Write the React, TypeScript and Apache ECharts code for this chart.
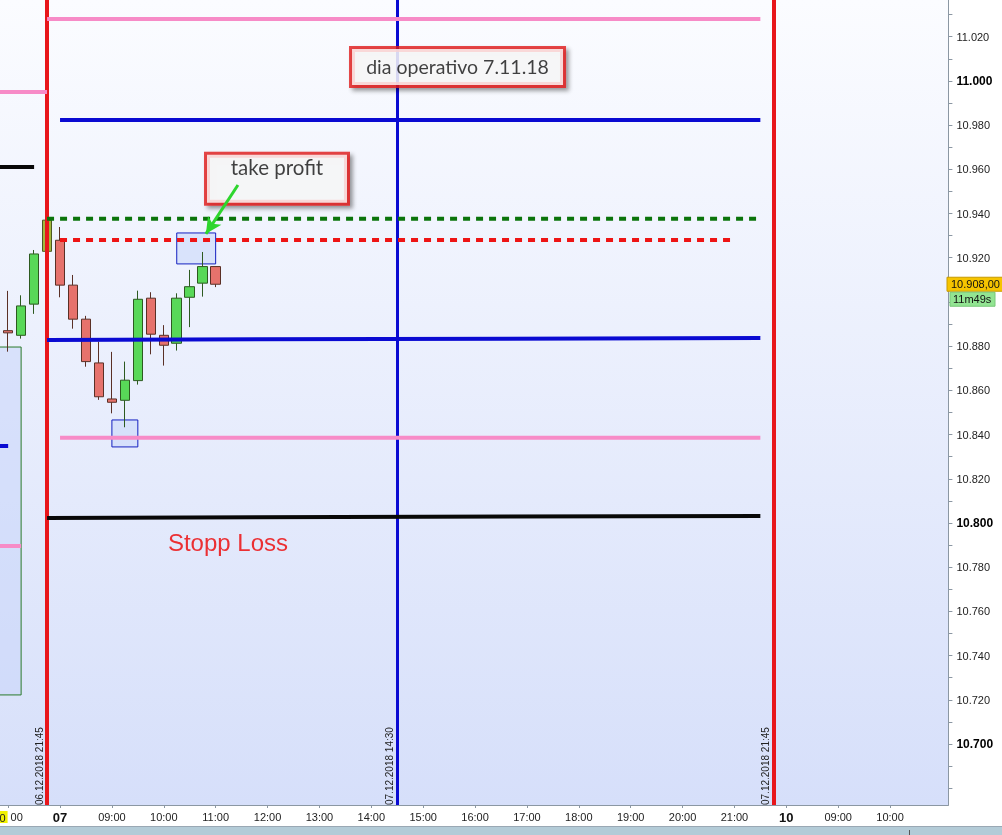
import React, { useEffect, useRef } from "react";
import * as echarts from "echarts";

// ---- time slots (15 min bars, non-trading hours collapsed) ----
function quarterSlots(fromMin: number, toMin: number): string[] {
  const out: string[] = [];
  for (let m = fromMin; m <= toMin; m += 15) {
    const h = Math.floor(m / 60);
    const mm = m % 60;
    out.push(String(h).padStart(2, "0") + ":" + String(mm).padStart(2, "0"));
  }
  return out;
}
const day06Slots = quarterSlots(20 * 60 + 45, 21 * 60 + 45);
const day07Slots = quarterSlots(8 * 60, 21 * 60 + 45);
const day10Slots = quarterSlots(8 * 60, 11 * 60);
const categories: string[] = [
  ...day06Slots.map((t) => "06 " + t),
  ...day07Slots.map((t) => "07 " + t),
  ...day10Slots.map((t) => "10 " + t),
];

// ---- candles ----
const candleTimes = [
  "06 20:45", "06 21:00", "06 21:15", "06 21:30", "06 21:45",
  "07 08:00", "07 08:15", "07 08:30", "07 08:45", "07 09:00", "07 09:15",
  "07 09:30", "07 09:45", "07 10:00", "07 10:15", "07 10:30", "07 10:45", "07 11:00",
];
const opens = [10866.5, 10887.0, 10884.9, 10899.0, 10922.9, 10927.9, 10907.6, 10892.2, 10872.4, 10856.1, 10855.5, 10864.4, 10901.7, 10884.9, 10881.3, 10902.1, 10908.5, 10916.0];
const closes = [10885.5, 10886.0, 10898.2, 10921.7, 10937.0, 10907.6, 10892.2, 10873.0, 10857.1, 10854.6, 10864.6, 10901.2, 10885.4, 10880.4, 10901.7, 10906.9, 10916.0, 10908.0];
const lows = [10862.0, 10877.5, 10883.4, 10894.6, 10922.9, 10902.1, 10887.9, 10870.7, 10855.7, 10849.6, 10843.3, 10862.6, 10876.3, 10871.2, 10878.0, 10888.6, 10902.4, 10906.7];
const highs = [10890.0, 10905.0, 10903.0, 10923.5, 10937.0, 10933.9, 10912.2, 10893.7, 10882.0, 10877.4, 10873.0, 10905.1, 10904.4, 10889.5, 10903.9, 10914.5, 10922.6, 10916.0];
const highlightedCandle = "06 21:45";

// ---- price axis (10.900 is covered by the price tag) ----
const yMin = 10672.4;
const yMax = 11036.6;
const yLabelValues = [10700, 10720, 10740, 10760, 10780, 10800, 10820, 10840, 10860, 10880, 10920, 10940, 10960, 10980, 11000, 11020];
const yTickValues = [10680, 10690, 10700, 10710, 10720, 10730, 10740, 10750, 10760, 10770, 10780, 10790, 10800, 10810, 10820, 10830, 10840, 10850, 10860, 10870, 10880, 10890, 10900, 10910, 10920, 10930, 10940, 10950, 10960, 10970, 10980, 10990, 11000, 11010, 11020, 11030];
const currentPrice = 10908;
const currentPriceText = "10.908,00";
const countdownText = "11m49s";

// ---- drawn levels: [from slot, to slot, start value, end value] ("" = left edge) ----
const levelFrom = ["06 21:45", "", "", "07 08:00", "06 21:45", "07 08:00", "06 21:45", "", "07 08:00", "", "06 21:45"];
const levelTo = ["07 21:30", "06 21:45", "06 21:30", "07 21:30", "07 21:30", "07 21:00", "07 21:30", "06 21:00", "07 21:30", "06 21:15", "07 21:30"];
const levelStart = [11028, 10995, 10961, 10982.3, 10937.6, 10928, 10882.8, 10834.8, 10838.5, 10789.6, 10802.3];
const levelEnd = [11028, 10995, 10961, 10982.3, 10937.6, 10928, 10883.7, 10834.8, 10838.5, 10789.6, 10803.2];
const levelKind = ["pink", "pink", "black", "blue", "greenDot", "redDot", "blue", "blue", "pink", "pink", "black"];

// ---- vertical time markers ----
const vLineSlots = ["06 21:45", "07 14:30", "07 21:45"];
const vLineLabels = ["06.12.2018 21:45", "07.12.2018 14:30", "07.12.2018 21:45"];
const vLineKind = ["red", "blue", "red"];

// ---- boxes: [from slot, to slot, low, high] ----
const boxFrom = ["", "07 09:00", "07 10:15"];
const boxTo = ["06 21:15", "07 09:30", "07 11:00"];
const boxLow = [10722.2, 10834.4, 10917.2];
const boxHigh = [10879.6, 10846.6, 10931.2];
const boxKind = ["green", "blue", "blue"];

// ---- text annotations (slot position, price) ----
const titleText = "dia operativo 7.11.18";
const titlePos = [35.65, 11006.3];
const tpText = "take profit";
const tpPos = [21.73, 10955.7];
const slText = "Stopp Loss";
const slPos = [17.95, 10791.0];
const arrowFrom = [18.72, 10952.9];
const arrowTo = [16.25, 10930.8];

const colors: Record<string, string> = {
  pink: "#f78bc7",
  black: "#080808",
  blue: "#0a0ad2",
  greenDot: "#0b740b",
  redDot: "#ee1414",
  red: "#e8161b",
};

function fmtPrice(v: number): string {
  const n = Math.round(v);
  return Math.floor(n / 1000) + "." + String(n % 1000).padStart(3, "0");
}

function slotIndex(s: string): number {
  return s === "" ? -1.5 : categories.indexOf(s);
}

export default function App() {
  const ref = useRef<HTMLDivElement>(null);
  useEffect(() => {
    if (!ref.current) return;
    const chart = echarts.init(ref.current, undefined, { renderer: "svg" });
    const font = "'Liberation Sans', Arial, sans-serif";
    const noteFont = "Lato, 'Open Sans', sans-serif";
    const last = categories.length - 0.5;
    const lastCat = categories[categories.length - 1];
    const showHour = (_i: number, v: string) => v.endsWith(":00") && v !== lastCat;

    const candleData = categories.map((c) => {
      const i = candleTimes.indexOf(c);
      if (i < 0) return "-";
      const v = [opens[i], closes[i], lows[i], highs[i]];
      if (c === highlightedCandle) {
        return { value: v, itemStyle: { color: "#a3b83e", borderColor: "#4d5a22" } };
      }
      return v;
    });

    const levelSeries = levelFrom.map((f, i) => {
      const kind = levelKind[i];
      const dotted = kind === "greenDot" || kind === "redDot";
      return {
        type: "line",
        xAxisIndex: 1,
        yAxisIndex: 0,
        silent: true,
        symbol: "none",
        z: 5,
        data: [
          [slotIndex(f), levelStart[i]],
          [slotIndex(levelTo[i]), levelEnd[i]],
        ],
        lineStyle: {
          color: colors[kind],
          width: 4,
          type: dotted ? [7, 6] : "solid",
          cap: "butt",
        },
      };
    });

    const boxData = boxFrom.map((f, i) => [
      {
        coord: [slotIndex(f), boxHigh[i]],
        itemStyle: {
          color: boxKind[i] === "green" ? "rgba(200,214,250,0.55)" : "rgba(205,218,250,0.65)",
          borderColor: boxKind[i] === "green" ? "#2a7a2a" : "#1420c0",
          borderWidth: 1,
        },
      },
      { coord: [slotIndex(boxTo[i]), boxLow[i]] },
    ]);

    const option: any = {
      animation: false,
      textStyle: { fontFamily: font },
      grid: [
        {
          left: -11.3,
          right: 53.6,
          top: 0,
          bottom: 30,
          containLabel: false,
          outerBoundsMode: "none",
          show: true,
          borderWidth: 0,
          backgroundColor: new echarts.graphic.LinearGradient(0, 0, 0, 1, [
            { offset: 0, color: "#fbfcff" },
            { offset: 1, color: "#d6dffa" },
          ]),
        },
      ],
      xAxis: [
        {
          type: "category",
          data: categories,
          boundaryGap: true,
          axisLine: { show: true, onZero: false, lineStyle: { color: "#8b97a3", width: 1 } },
          axisTick: {
            show: true,
            alignWithLabel: true,
            length: 3,
            interval: showHour,
            lineStyle: { color: "#8b97a3" },
          },
          axisLabel: {
            interval: showHour,
            margin: 6,
            fontSize: 11,
            color: "#222",
            fontFamily: font,
            formatter: (v: string) => {
              const [day, time] = v.split(" ");
              if (time === "08:00") return "{d|" + day + "}";
              if (day === "06") return "{hl|0}{n|00}";
              return time;
            },
            rich: {
              d: { fontWeight: "bold", fontSize: 13, color: "#111", fontFamily: font },
              hl: { backgroundColor: "#f2f200", fontSize: 11, color: "#222", fontFamily: font, padding: [1, 2, 0, 6] },
              n: { fontSize: 11, color: "#222", fontFamily: font, padding: [0, 0, 0, 3] },
            },
          },
          splitLine: { show: false },
        },
        {
          type: "value",
          min: -0.5,
          max: last,
          show: false,
        },
      ],
      yAxis: [
        {
          type: "value",
          position: "right",
          min: yMin,
          max: yMax,
          axisLine: { show: true, onZero: false, lineStyle: { color: "#8b97a3", width: 1 } },
          axisTick: {
            show: true,
            length: 4,
            customValues: yTickValues,
            lineStyle: { color: "#8b97a3" },
          },
          axisLabel: {
            customValues: yLabelValues,
            margin: 8,
            fontSize: 11,
            color: "#222",
            fontFamily: font,
            formatter: (v: number) => (Math.round(v) % 100 === 0 ? "{b|" + fmtPrice(v) + "}" : fmtPrice(v)),
            rich: { b: { fontWeight: "bold", fontSize: 12, color: "#000", fontFamily: font } },
          },
          splitLine: { show: false },
        },
      ],
      series: [
        {
          type: "line",
          xAxisIndex: 1,
          yAxisIndex: 0,
          data: [],
          silent: true,
          z: 1,
          markArea: { silent: true, data: boxData },
        },
        {
          type: "candlestick",
          xAxisIndex: 0,
          yAxisIndex: 0,
          barWidth: 10,
          z: 3,
          data: candleData,
          itemStyle: {
            color: "#58d858",
            color0: "#e6726c",
            borderColor: "#2d5a20",
            borderColor0: "#5a3026",
            borderWidth: 1,
          },
        },
        ...levelSeries,
        {
          type: "line",
          xAxisIndex: 1,
          yAxisIndex: 0,
          data: [],
          silent: true,
          z: 6,
          markLine: {
            silent: true,
            symbol: ["none", "none"],
            data: vLineSlots.map((s, i) => ({
              xAxis: slotIndex(s),
              lineStyle: { color: vLineKind[i] === "red" ? colors.red : colors.blue, width: vLineKind[i] === "red" ? 4 : 3, type: "solid" },
              label: {
                show: true,
                formatter: vLineLabels[i],
                position: "insideStartTop",
                distance: [0, 3],
                fontSize: 10,
                color: "#222",
                fontFamily: font,
              },
            })),
          },
        },
        {
          type: "scatter",
          xAxisIndex: 1,
          yAxisIndex: 0,
          symbolSize: 0,
          silent: true,
          z: 8,
          itemStyle: { color: "transparent" },
          data: [
            {
              value: titlePos,
              label: {
                show: true,
                position: "inside",
                formatter: titleText,
                fontFamily: noteFont,
                fontSize: 19.5,
                color: "#111",
                backgroundColor: "#ffffff",
                borderColor: "#e01b1b",
                borderWidth: 3,
                width: 205,
                lineHeight: 34,
                align: "center",
                padding: [1, 3, 1, 3],
                shadowColor: "rgba(0,0,0,0.45)",
                shadowBlur: 4,
                shadowOffsetX: 3,
                shadowOffsetY: 3,
              },
            },
            {
              value: tpPos,
              label: {
                show: true,
                position: "inside",
                formatter: tpText + "\n ",
                fontFamily: noteFont,
                fontSize: 20.5,
                color: "#111",
                backgroundColor: "#ffffff",
                borderColor: "#e01b1b",
                borderWidth: 3,
                width: 134,
                lineHeight: 23,
                align: "center",
                padding: [1, 3, 1, 3],
                shadowColor: "rgba(0,0,0,0.45)",
                shadowBlur: 4,
                shadowOffsetX: 3,
                shadowOffsetY: 3,
              },
            },
            {
              value: slPos,
              label: {
                show: true,
                position: "inside",
                formatter: slText,
                fontFamily: font,
                fontSize: 24,
                color: "#ee0000",
              },
            },
          ],
        },
        {
          type: "line",
          xAxisIndex: 1,
          yAxisIndex: 0,
          data: [],
          silent: true,
          z: 10,
          markLine: {
            silent: true,
            z: 10,
            symbol: ["none", "arrow"],
            symbolSize: [12, 16],
            label: { show: false },
            lineStyle: { color: "#2ed62e", width: 3, type: "solid" },
            data: [[{ coord: arrowFrom }, { coord: arrowTo }]],
          },
        },
      ],
    };
    chart.setOption(option);

    const py = chart.convertToPixel({ yAxisIndex: 0 }, currentPrice) as number;
    chart.setOption({
      graphic: [
        { type: "rect", left: 0, top: 826, shape: { width: 1002, height: 1 }, style: { fill: "#9aa8b4" }, z: 100 },
        { type: "rect", left: 0, top: 827, shape: { width: 1002, height: 8 }, style: { fill: "#b3cbd7" }, z: 100 },
        { type: "rect", left: 909, top: 830, shape: { width: 1, height: 5 }, style: { fill: "#555" }, z: 101 },
        { type: "rect", x: 947, y: py - 7, z: 100, shape: { width: 60, height: 14 }, style: { fill: "#f6c400", stroke: "#c79a00", lineWidth: 1 } },
        { type: "text", x: 951, y: py, z: 101, style: { text: currentPriceText, fill: "#111", font: "11px " + font, verticalAlign: "middle" } },
        { type: "rect", x: 950, y: py + 8, z: 100, shape: { width: 45, height: 14 }, style: { fill: "#92e492", stroke: "#78c878", lineWidth: 1 } },
        { type: "text", x: 953, y: py + 15, z: 101, style: { text: countdownText, fill: "#111", font: "11px " + font, verticalAlign: "middle" } },
      ],
    });

    return () => chart.dispose();
  }, []);
  return <div ref={ref} style={{ position: "fixed", left: 0, top: 0, width: 1002, height: 835 }} />;
}
